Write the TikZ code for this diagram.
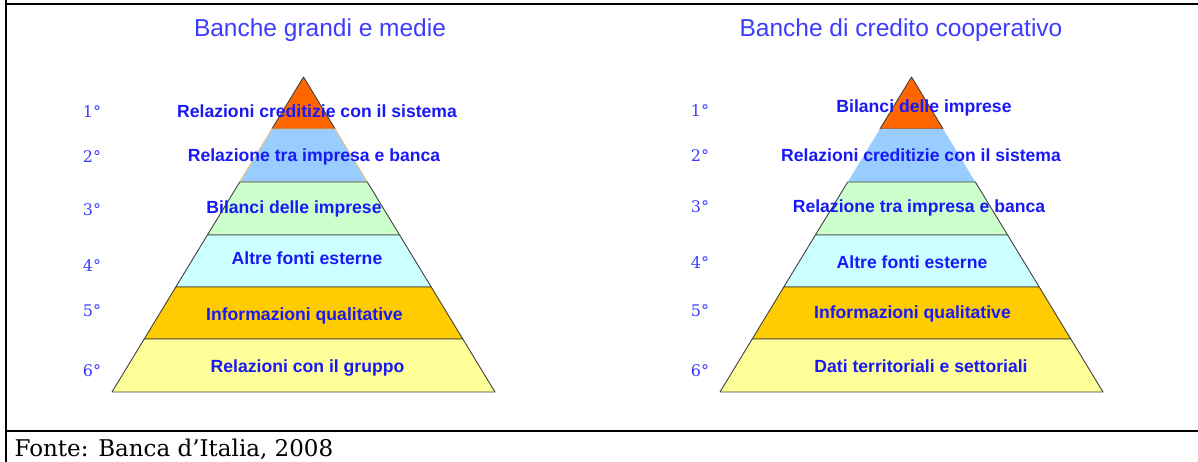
\documentclass[tikz,border=0pt]{standalone}
\usepackage{fontspec}
\setmainfont{Liberation Sans}
\newfontfamily\serifface{DejaVu Serif}
\usepackage{xcolor}

\definecolor{txtblue}{RGB}{25,25,245}
\definecolor{rankblue}{RGB}{60,60,255}
\definecolor{lay1}{HTML}{FF6600}
\definecolor{lay2}{HTML}{99CCFF}
\definecolor{lay3}{HTML}{CCFFCC}
\definecolor{lay4}{HTML}{CCFFFF}
\definecolor{lay5}{HTML}{FFCC00}
\definecolor{lay6}{HTML}{FFFF99}
\definecolor{edgetan}{HTML}{EEC27A}

\tikzset{
  layer/.style={draw=black!75, line width=0.9pt, line join=round},
  laytext/.style={anchor=base, text=txtblue, font=\fontsize{17.6}{20}\selectfont\bfseries},
  rank/.style={anchor=base, text=rankblue, font=\serifface\fontsize{16}{18}\selectfont},
  headtext/.style={anchor=base, text=rankblue, font=\fontsize{24.5}{28}\selectfont},
}

\begin{document}
\begin{tikzpicture}[x=1pt, y=-1pt]
            \useasboundingbox (0,0) rectangle (1198,462);

            % frame
            \draw[line width=2.4pt] (6,0) -- (6,462);
            \draw[line width=2.4pt] (6,4) -- (1198,4);
            \draw[line width=2.4pt] (6,431) -- (1198,431);

            % left pyramid
            \begin{scope}[shift={(303.5,0)}]
            \filldraw[layer, fill=lay1] (-31.6,129) -- (0,77) -- (31.6,129) -- cycle;
            \filldraw[layer, fill=lay2, draw=edgetan] (-63.8,182) -- (-31.6,129) -- (31.6,129) -- (63.8,182) -- cycle;
            \filldraw[layer, fill=lay3] (-96.1,235) -- (-63.8,182) -- (63.8,182) -- (96.1,235) -- cycle;
            \filldraw[layer, fill=lay4] (-127.7,287) -- (-96.1,235) -- (96.1,235) -- (127.7,287) -- cycle;
            \filldraw[layer, fill=lay5] (-159.3,339) -- (-127.7,287) -- (127.7,287) -- (159.3,339) -- cycle;
            \filldraw[layer, fill=lay6] (-191.5,392) -- (-159.3,339) -- (159.3,339) -- (191.5,392) -- cycle;
            \end{scope}

            % right pyramid
            \begin{scope}[shift={(911.5,0)}]
            \filldraw[layer, fill=lay1] (-31.6,129) -- (0,77) -- (31.6,129) -- cycle;
            \fill[fill=lay2] (-63.8,182) -- (-31.6,129) -- (31.6,129) -- (63.8,182) -- cycle;
            \filldraw[layer, fill=lay3] (-96.1,235) -- (-63.8,182) -- (63.8,182) -- (96.1,235) -- cycle;
            \filldraw[layer, fill=lay4] (-127.7,287) -- (-96.1,235) -- (96.1,235) -- (127.7,287) -- cycle;
            \filldraw[layer, fill=lay5] (-159.3,339) -- (-127.7,287) -- (127.7,287) -- (159.3,339) -- cycle;
            \filldraw[layer, fill=lay6] (-191.5,392) -- (-159.3,339) -- (159.3,339) -- (191.5,392) -- cycle;
            \end{scope}

            % titles
            \node[headtext](TL) at (320,37)  {Banche grandi e medie};
            \node[headtext](TR) at (901,37)  {Banche di credito cooperativo};

            % left texts
            \node[laytext](L1) at (317,118)   {Relazioni creditizie con il sistema};
            \node[laytext](L2) at (314,162)   {Relazione tra impresa e banca};
            \node[laytext](L3) at (294,214)   {Bilanci delle imprese};
            \node[laytext](L4) at (307,265)   {Altre fonti esterne};
            \node[laytext](L5) at (304.5,320) {Informazioni qualitative};
            \node[laytext](L6) at (307.5,372) {Relazioni con il gruppo};

            % right texts
            \node[laytext](R1) at (924,113)   {Bilanci delle imprese};
            \node[laytext](R2) at (921,162)   {Relazioni creditizie con il sistema};
            \node[laytext](R3) at (919,213)   {Relazione tra impresa e banca};
            \node[laytext](R4) at (912,269)   {Altre fonti esterne};
            \node[laytext](R5) at (912.5,318) {Informazioni qualitative};
            \node[laytext](R6) at (921,372)   {Dati territoriali e settoriali};

            % ranks
            \node[rank](LN1) at (92,118) {1°};
            \node[rank](LN2) at (92,163) {2°};
            \node[rank](LN3) at (92,215) {3°};
            \node[rank](LN4) at (92,271) {4°};
            \node[rank](LN5) at (92,316) {5°};
            \node[rank](LN6) at (92,376) {6°};
            \node[rank](RN1) at (700,117) {1°};
            \node[rank](RN2) at (700,162) {2°};
            \node[rank](RN3) at (700,213) {3°};
            \node[rank](RN4) at (700,269) {4°};
            \node[rank](RN5) at (700,316) {5°};
            \node[rank](RN6) at (700,376) {6°};

            % source
            \node[anchor=base west, font=\serifface\fontsize{23}{26}\selectfont](FT) at (11,456) {Fonte: Banca d’Italia, 2008};
        \end{tikzpicture}
\end{document}
